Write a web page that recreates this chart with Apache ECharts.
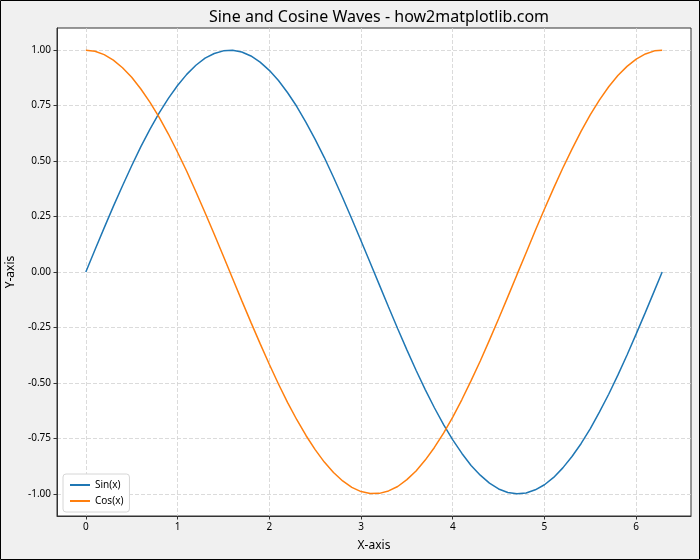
<!DOCTYPE html>
<html>
<head>
<meta charset="utf-8">
<script src="https://cdn.jsdelivr.net/npm/echarts@6/dist/echarts.min.js"></script>
<style>
html,body{margin:0;padding:0;background:#f0f0f0;}
#c{width:700px;height:560px;}
</style>
</head>
<body>
<div id="c"></div>
<script>
const xValues = [0,0.1,0.2,0.3,0.4,0.5,0.6,0.7,0.8,0.9,1.0,1.1,1.2,1.3,1.4,1.5,1.6,1.7,1.8,1.9,2.0,2.1,2.2,2.3,2.4,2.5,2.6,2.7,2.8,2.9,3.0,3.1,3.2,3.3,3.4,3.5,3.6,3.7,3.8,3.9,4.0,4.1,4.2,4.3,4.4,4.5,4.6,4.7,4.8,4.9,5.0,5.1,5.2,5.3,5.4,5.5,5.6,5.7,5.8,5.9,6.0,6.1,6.2,6.283];
const sinValues = [0,0.100,0.199,0.296,0.389,0.479,0.565,0.644,0.717,0.783,0.841,0.891,0.932,0.964,0.985,0.997,1.000,0.992,0.974,0.946,0.909,0.863,0.808,0.746,0.675,0.598,0.516,0.427,0.335,0.239,0.141,0.042,-0.058,-0.158,-0.256,-0.351,-0.443,-0.530,-0.612,-0.688,-0.757,-0.818,-0.872,-0.916,-0.952,-0.978,-0.994,-1.000,-0.996,-0.982,-0.959,-0.926,-0.883,-0.832,-0.773,-0.706,-0.631,-0.551,-0.465,-0.374,-0.279,-0.182,-0.083,0.000];
const cosValues = [1.000,0.995,0.980,0.955,0.921,0.878,0.825,0.765,0.697,0.622,0.540,0.454,0.362,0.267,0.170,0.071,-0.029,-0.129,-0.227,-0.323,-0.416,-0.505,-0.589,-0.666,-0.737,-0.801,-0.857,-0.904,-0.942,-0.971,-0.990,-0.999,-0.998,-0.987,-0.967,-0.936,-0.897,-0.848,-0.791,-0.726,-0.654,-0.575,-0.490,-0.401,-0.307,-0.211,-0.112,-0.012,0.087,0.187,0.284,0.378,0.469,0.554,0.635,0.709,0.776,0.835,0.886,0.927,0.960,0.983,0.997,1.000];
const xTicks = [0,1,2,3,4,5,6];
const yTicks = [-1.00,-0.75,-0.50,-0.25,0.00,0.25,0.50,0.75,1.00];
const seriesNames = ['Sin(x)','Cos(x)'];
const titleText = 'Sine and Cosine Waves - how2matplotlib.com';

const FONT = '"Noto Sans", "DejaVu Sans", sans-serif';
const chart = echarts.init(document.getElementById('c'), null, {renderer:'canvas'});
const gridLine = {show:true, lineStyle:{color:'#d2d2d2', width:0.8, type:[4,2]}};
chart.setOption({
  backgroundColor:'#f0f0f0',
  animation:false,
  title:{text:titleText, left:374, top:4, textAlign:'center',
    textStyle:{fontFamily:FONT, fontSize:16, fontWeight:'normal', color:'#000'}},
  graphic:[{type:'rect', shape:{x:0.5,y:0.5,width:699,height:559}, style:{fill:'none', stroke:'#000', lineWidth:1}, silent:true, z:100}],
  grid:{left:57, right:9, top:28, bottom:44, containLabel:false, outerBoundsMode:'none',
    show:true, backgroundColor:'#fff', borderColor:'#333', borderWidth:1},
  legend:{data:seriesNames, orient:'vertical', left:63, bottom:48, itemWidth:20, itemHeight:2, itemGap:6,
    padding:[6,6,6,6], backgroundColor:'#fff', borderColor:'#d6d6d6', borderWidth:1, borderRadius:3,
    textStyle:{fontFamily:FONT, fontSize:10, color:'#000'}},
  xAxis:{type:'value', min:-0.3142, max:6.5973, name:'X-axis', nameLocation:'middle', nameGap:24,
    nameTextStyle:{fontFamily:FONT, fontSize:12, color:'#000'},
    axisLine:{show:true, onZero:false, lineStyle:{color:'#333'}},
    axisTick:{show:true, length:3.5, lineStyle:{color:'#333'}, customValues:xTicks},
    axisLabel:{customValues:xTicks, fontFamily:FONT, fontSize:10, color:'#000', margin:6, formatter:v=>String(v)},
    splitLine:gridLine},
  yAxis:{type:'value', min:-1.1, max:1.1, name:'Y-axis', nameLocation:'middle', nameGap:33, nameRotate:90,
    nameTextStyle:{fontFamily:FONT, fontSize:12, color:'#000'},
    axisLine:{show:true, onZero:false, lineStyle:{color:'#333'}},
    axisTick:{show:true, length:3.5, lineStyle:{color:'#333'}, customValues:yTicks},
    axisLabel:{customValues:yTicks, fontFamily:FONT, fontSize:10, color:'#000', margin:6, formatter:v=>v.toFixed(2)},
    splitLine:gridLine},
  series:[
    {name:seriesNames[0], type:'line', symbol:'none', smooth:false, data:xValues.map((x,i)=>[x,sinValues[i]]),
      lineStyle:{color:'#1f77b4', width:1.5}, itemStyle:{color:'#1f77b4'}},
    {name:seriesNames[1], type:'line', symbol:'none', smooth:false, data:xValues.map((x,i)=>[x,cosValues[i]]),
      lineStyle:{color:'#ff7f0e', width:1.5}, itemStyle:{color:'#ff7f0e'}}
  ]
});
</script>
</body>
</html>
